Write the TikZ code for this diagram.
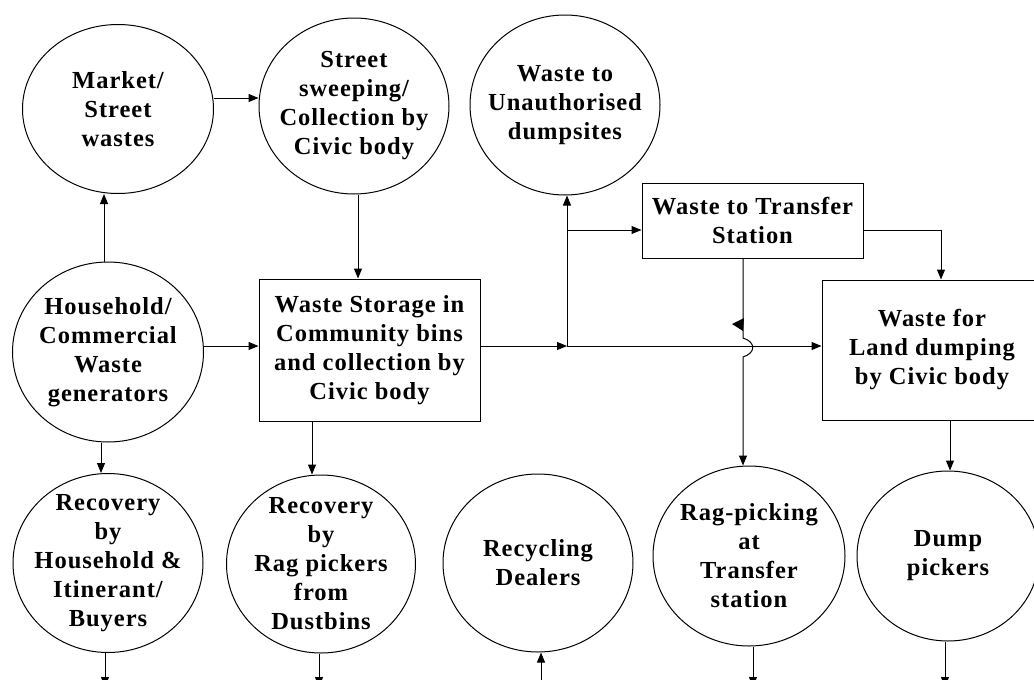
\documentclass[tikz,border=0pt]{standalone}
\usepackage{fontspec}
\newfontfamily\tfont{Liberation Serif}[LetterSpace=4]
\usetikzlibrary{shapes.geometric,arrows.meta}
\tikzset{
  ell/.style={draw, ellipse, line width=1pt, inner sep=0pt},
  boxnode/.style={draw, rectangle, line width=1pt, inner sep=0pt, align=center,
    font=\tfont\bfseries\fontsize{24.5}{29}\selectfont},
  txt/.style={align=center, inner sep=0pt, font=\tfont\bfseries\fontsize{24.5}{29}\selectfont},
  arr/.style={line width=1pt, -{Triangle[length=10pt,width=8pt]}},
  ln/.style={line width=1pt}
}
\begin{document}
\begin{tikzpicture}[x=1pt,y=-1pt]
\useasboundingbox (0,0) rectangle (1034,680);
% circles
\node[ell, minimum width=191pt, minimum height=169pt] (mk) at (118,109) {};
\node[txt] at (mk) {Market/\\Street\\wastes};
\node[ell, minimum width=190pt, minimum height=176pt] (ss) at (354,106) {};
\node[txt] at (ss) {Street\\sweeping/\\Collection by\\Civic body};
\node[ell, minimum width=190pt, minimum height=180pt] (un) at (565,105) {};
\node[txt] at (un) {Waste to\\Unauthorised\\dumpsites};
\node[ell, minimum width=191pt, minimum height=180pt] (hh) at (108,352) {};
\node[txt] at (hh) {Household/\\Commercial\\Waste\\generators};
\node[ell, minimum width=190pt, minimum height=179pt] (r1) at (108,563) {};
\node[txt] at (r1) {Recovery\\by\\Household \&\\Itinerant/\\Buyers};
\node[ell, minimum width=189pt, minimum height=178pt] (r2) at (321,564) {};
\node[txt] at (r2) {Recovery\\by\\Rag pickers\\from\\Dustbins};
\node[ell, minimum width=190pt, minimum height=178pt] (rc) at (538,563) {};
\node[txt] at (rc) {Recycling\\Dealers};
\node[ell, minimum width=192pt, minimum height=180pt] (rg) at (749,556) {};
\node[txt] at (rg) {Rag-picking\\at\\Transfer\\station};
\node[ell, minimum width=182pt, minimum height=170pt] (dp) at (948,556) {};
\node[txt] at (dp) {Dump\\pickers};
% boxes
\node[boxnode, minimum width=221pt, minimum height=142pt] (st) at (369.5,350) {Waste Storage in\\Community bins\\and collection by\\Civic body};
\node[boxnode, minimum width=221pt, minimum height=75pt] (tr) at (752.5,220.5) {Waste to Transfer\\Station};
\node[boxnode, minimum width=220pt, minimum height=140pt] (ld) at (932,350) {Waste for\\Land dumping\\by Civic body};
% junctions and free ends
\coordinate (j) at (567,346);
\coordinate (b) at (567,230);
\coordinate (e1) at (105,687);
\coordinate (e2) at (319,687);
\coordinate (e3) at (541,682);
\coordinate (e4) at (753,687);
\coordinate (e5) at (945,687);
% connectors
\draw[arr] (104,0 |- hh.north) -- (104,0 |- mk.south);
\draw[arr] (mk.east |- 0,98) -- (ss.west |- 0,98);
\draw[arr] (358,0 |- ss.south) -- (358,0 |- st.north);
\draw[arr] (hh.east |- j) -- (st.west |- j);
\draw[arr] (st.east |- j) -- (j);
\draw[arr] (j) -- (ld.west |- j);
\draw[arr] (j) -- (j |- un.south);
\draw[arr] (b) -- (tr.west |- b);
\draw[arr] (tr.east |- b) -- (941,230) -- (941,0 |- ld.north);
\draw[arr] (743,0 |- tr.south) -- (743,338) .. controls (756,342) and (756,353) .. (743,357) -- (743,0 |- rg.north);
\fill (732,324) -- (744,318) -- (743,331) -- cycle;
\draw[arr] (101,0 |- hh.south) -- (101,0 |- r1.north);
\draw[arr] (312,0 |- st.south) -- (312,0 |- r2.north);
\draw[arr] (950,0 |- ld.south) -- (950,0 |- dp.north);
\draw[arr] (e1 |- r1.south) -- (e1);
\draw[arr] (e2 |- r2.south) -- (e2);
\draw[arr] (e3) -- (e3 |- rc.south);
\draw[arr] (e4 |- rg.south) -- (e4);
\draw[arr] (e5 |- dp.south) -- (e5);
\end{tikzpicture}
\end{document}
